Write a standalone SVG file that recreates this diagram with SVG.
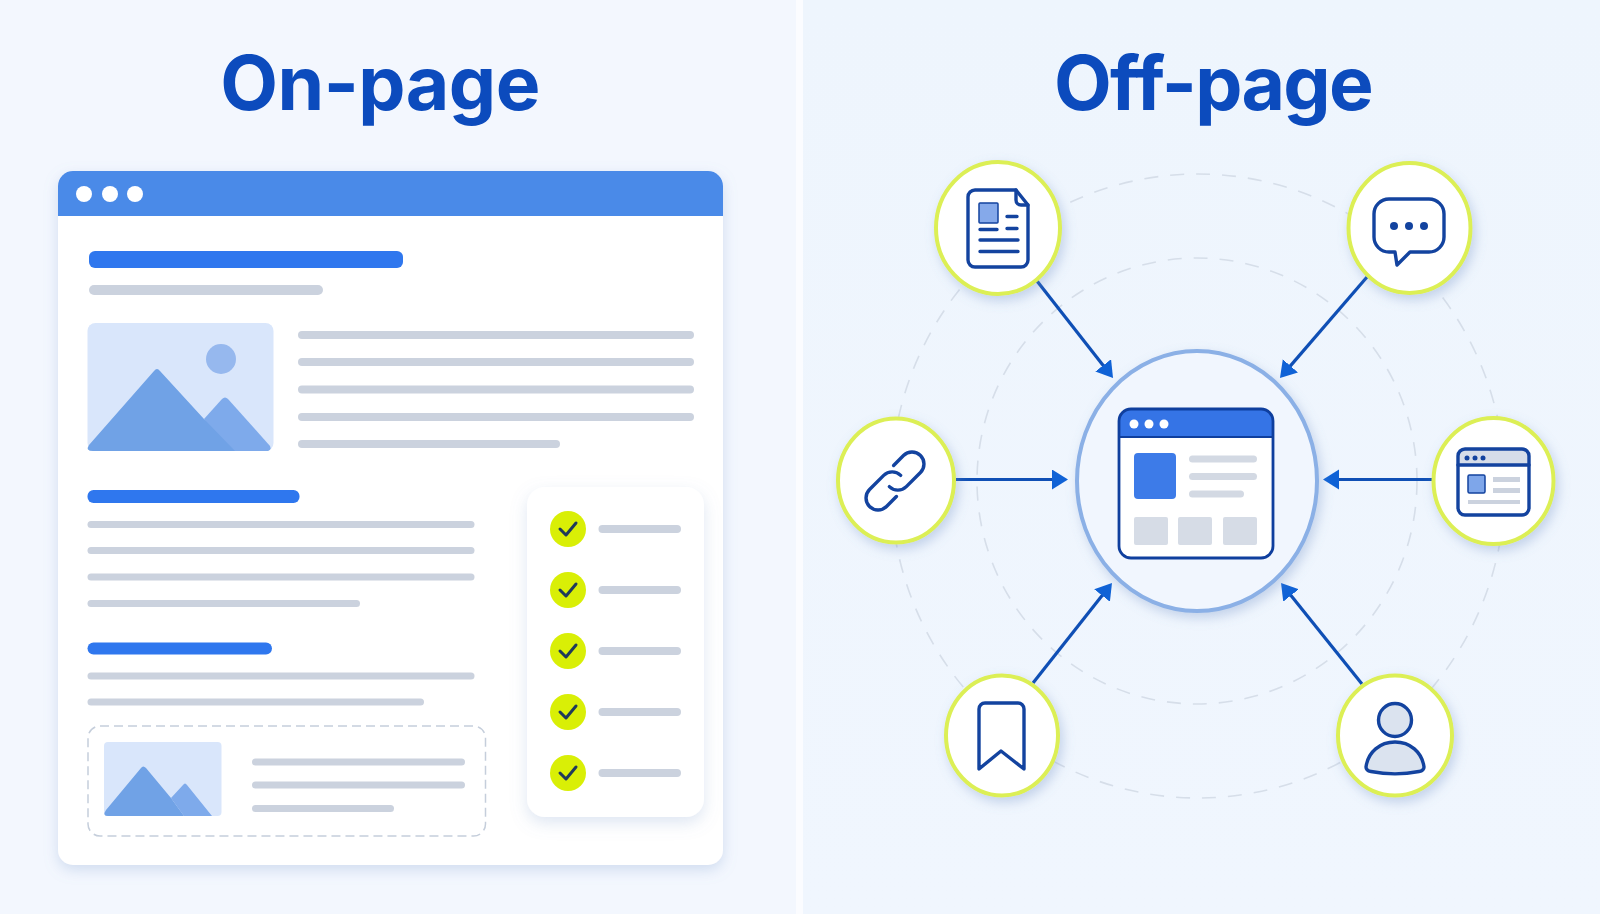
<svg xmlns="http://www.w3.org/2000/svg" width="1600" height="914" viewBox="0 0 1600 914">
  <defs>
    <linearGradient id="bgRight" x1="0" y1="0" x2="0" y2="1">
      <stop offset="0" stop-color="#eef5fd"/>
      <stop offset="1" stop-color="#f0f6fe"/>
    </linearGradient>
    <filter id="windowShadow" x="-10%" y="-10%" width="120%" height="120%">
      <feDropShadow dx="0" dy="5" stdDeviation="7" flood-color="#7d9ccc" flood-opacity="0.3"/>
    </filter>
    <filter id="cardShadow" x="-20%" y="-10%" width="140%" height="120%">
      <feDropShadow dx="0" dy="6" stdDeviation="8" flood-color="#7d9ccc" flood-opacity="0.25"/>
    </filter>
    <filter id="nodeShadow" x="-30%" y="-30%" width="160%" height="160%">
      <feDropShadow dx="3" dy="5" stdDeviation="6" flood-color="#6f8fc4" flood-opacity="0.35"/>
    </filter>
    <marker id="head" markerUnits="userSpaceOnUse" markerWidth="20" markerHeight="22" refX="2" refY="10" orient="auto">
      <path d="M0 0 L16 10 L0 20 Z" fill="#0f62d6"/>
    </marker>
    <style>
      text { font-family: Inter, "Liberation Sans", sans-serif; font-weight: 700; font-size: 75px; fill: #0c4bbd; text-anchor: middle; }
      .bar { fill: #cbd2de; }
      .heading { fill: #2f77ee; }
      .sky { fill: #d9e6fb; }
      .peak { fill: #70a2e6; }
      .peak2 { fill: #7eaaeb; }
      .tick { fill: #d9ef06; }
      .mark { fill: none; stroke: #1f3a5a; stroke-width: 3; stroke-linecap: round; stroke-linejoin: round; }
      .dot { fill: #ffffff; }
      .orbit { fill: none; stroke: #d6dee9; stroke-width: 1.600; stroke-dasharray: 14 12; }
      .link { stroke: #0f4fb5; stroke-width: 3.200; marker-end: url(#head); }
      .ring { fill: #ffffff; stroke: #dcef55; stroke-width: 4; filter: url(#nodeShadow); }
      .ink { fill: none; stroke: #13439f; stroke-width: 3.400; stroke-linecap: round; stroke-linejoin: round; }
      .inkfill { fill: #13439f; }
    </style>
  </defs>

  <!-- panels -->
  <rect width="1600" height="914" fill="#f3f7fe"/>
  <rect x="803" width="797" height="914" fill="url(#bgRight)"/>
  <rect x="796" width="7" height="914" fill="#fbfcff"/>

  <text x="380" y="110" letter-spacing="-0.500">On-page</text>
  <text x="1213" y="110" letter-spacing="-1.700">Off-page</text>

  <!-- page layout -->
  <g id="page-window">
    <rect x="58" y="171" width="665" height="694" rx="15" fill="#ffffff" filter="url(#windowShadow)"/>
    <path d="M58 216 V186 A15 15 0 0 1 73 171 H708 A15 15 0 0 1 723 186 V216 Z" fill="#4a8ae8"/>
    <circle class="dot" cx="84" cy="194" r="8"/>
    <circle class="dot" cx="110" cy="194" r="8"/>
    <circle class="dot" cx="135" cy="194" r="8"/>

    <rect class="heading" x="89" y="251" width="314" height="17" rx="6"/>
    <rect class="bar" x="89" y="285" width="234" height="10" rx="5"/>

    <rect class="sky" x="87.500" y="323" width="186" height="128" rx="8"/>
    <circle cx="221" cy="359" r="15" fill="#96b8ee"/>
    <path class="peak2" d="M204 419 L222 399 Q225 396 228 399 L270 446 Q272 451 266 451 L225 451 Z"/>
    <path class="peak" d="M154 371 Q157 367 160 371 L204 419 L235 451 H93 Q85 451 89 445 Z"/>

    <rect class="bar" x="298" y="331" width="396" height="8" rx="4"/>
    <rect class="bar" x="298" y="358" width="396" height="8" rx="4"/>
    <rect class="bar" x="298" y="385.500" width="396" height="8" rx="4"/>
    <rect class="bar" x="298" y="413" width="396" height="8" rx="4"/>
    <rect class="bar" x="298" y="440" width="262" height="8" rx="4"/>

    <rect class="heading" x="87.500" y="490" width="212" height="13" rx="6"/>
    <rect class="bar" x="87.500" y="521" width="387" height="7" rx="3.500"/>
    <rect class="bar" x="87.500" y="547" width="387" height="7" rx="3.500"/>
    <rect class="bar" x="87.500" y="573.500" width="387" height="7" rx="3.500"/>
    <rect class="bar" x="87.500" y="600" width="272.500" height="7" rx="3.500"/>

    <rect class="heading" x="87.500" y="642.500" width="184.500" height="12" rx="6"/>
    <rect class="bar" x="87.500" y="672.500" width="387" height="7" rx="3.500"/>
    <rect class="bar" x="87.500" y="698.500" width="336.500" height="7" rx="3.500"/>

    <rect x="88" y="726" width="397.500" height="110" rx="12" fill="none" stroke="#c5cedb" stroke-width="1.500" stroke-dasharray="9 5"/>
    <rect class="sky" x="104" y="742" width="117.500" height="74" rx="4"/>
    <path class="peak2" d="M171 798 L183 785 Q185 782 187 785 L212 816 H184 Z"/>
    <path class="peak" d="M141 768 Q143 765 146 768 L171 798 L184 816 H108 Q102 816 106 810 Z"/>
    <rect class="bar" x="252" y="758.500" width="213" height="7" rx="3.500"/>
    <rect class="bar" x="252" y="781.500" width="213" height="7" rx="3.500"/>
    <rect class="bar" x="252" y="805" width="142" height="7" rx="3.500"/>
  </g>

  <g id="checklist">
    <rect x="527" y="487" width="177" height="330" rx="18" fill="#ffffff" filter="url(#cardShadow)"/>
    <circle class="tick" cx="568" cy="529" r="18"/>
    <path class="mark" d="M560 529 L566 535 L576 523"/>
    <rect class="bar" x="598.500" y="525" width="82.500" height="8" rx="4"/>
    <circle class="tick" cx="568" cy="590" r="18"/>
    <path class="mark" d="M560 590 L566 596 L576 584"/>
    <rect class="bar" x="598.500" y="586" width="82.500" height="8" rx="4"/>
    <circle class="tick" cx="568" cy="651" r="18"/>
    <path class="mark" d="M560 651 L566 657 L576 645"/>
    <rect class="bar" x="598.500" y="647" width="82.500" height="8" rx="4"/>
    <circle class="tick" cx="568" cy="712" r="18"/>
    <path class="mark" d="M560 712 L566 718 L576 706"/>
    <rect class="bar" x="598.500" y="708" width="82.500" height="8" rx="4"/>
    <circle class="tick" cx="568" cy="773" r="18"/>
    <path class="mark" d="M560 773 L566 779 L576 767"/>
    <rect class="bar" x="598.500" y="769" width="82.500" height="8" rx="4"/>
  </g>

  <!-- orbit rings behind the hub -->
  <ellipse class="orbit" cx="1197" cy="481" rx="220" ry="223"/>
  <ellipse class="orbit" cx="1198" cy="486" rx="307" ry="312"/>

  <g id="connectors">
    <line class="link" x1="1037" y1="281" x2="1104.400" y2="367"/>
    <line class="link" x1="1367" y1="277" x2="1289.100" y2="367.400"/>
    <line class="link" x1="956" y1="479.500" x2="1054" y2="479.500"/>
    <line class="link" x1="1432" y1="479.500" x2="1337" y2="479.500"/>
    <line class="link" x1="1033" y1="683" x2="1103.300" y2="594"/>
    <line class="link" x1="1362" y1="684" x2="1289.800" y2="593.900"/>
  </g>

  <g id="hub">
    <ellipse cx="1197" cy="481" rx="120" ry="130" fill="#f1f6fe" stroke="#8bb0e6" stroke-width="4" filter="url(#nodeShadow)"/>
    <rect x="1119" y="409" width="154" height="149" rx="12" fill="#ffffff"/>
    <path d="M1119 437 V421 A12 12 0 0 1 1131 409 H1261 A12 12 0 0 1 1273 421 V437 Z" fill="#3574e6"/>
    <rect x="1119" y="409" width="154" height="149" rx="12" fill="none" stroke="#0f3f9e" stroke-width="2.800"/>
    <line x1="1119" y1="437" x2="1273" y2="437" stroke="#0f3f9e" stroke-width="2"/>
    <circle class="dot" cx="1134" cy="424" r="4.500"/>
    <circle class="dot" cx="1149" cy="424" r="4.500"/>
    <circle class="dot" cx="1164" cy="424" r="4.500"/>
    <rect x="1134" y="453" width="42" height="46" rx="4" fill="#3d7be8"/>
    <rect class="bar" x="1189" y="455.500" width="68" height="7" rx="3.500" opacity="0.85"/>
    <rect class="bar" x="1189" y="473" width="68" height="7" rx="3.500" opacity="0.85"/>
    <rect class="bar" x="1189" y="490.500" width="55" height="7" rx="3.500" opacity="0.85"/>
    <rect x="1134" y="517" width="34" height="28" rx="2" fill="#d6dce6"/>
    <rect x="1178" y="517" width="34" height="28" rx="2" fill="#d6dce6"/>
    <rect x="1223" y="517" width="34" height="28" rx="2" fill="#d6dce6"/>
  </g>

  <g id="node-document">
    <ellipse class="ring" cx="998" cy="228" rx="62" ry="66"/>
    <path class="ink" d="M975 190 H1016 L1028 205 V260 A7 7 0 0 1 1021 267 H975 A7 7 0 0 1 968 260 V197 A7 7 0 0 1 975 190 Z"/>
    <path class="ink" d="M1016 190 V200 A5 5 0 0 0 1021 205 H1028" stroke-width="2"/>
    <rect x="979" y="203" width="19" height="20" fill="#85a9ea" stroke="#13439f" stroke-width="1.500" rx="1"/>
    <path class="ink" stroke-width="2.800" d="M1007 216.500 H1017 M1007 228.500 H1017 M980 229.500 H997 M980 240 H1018 M980 251.500 H1018"/>
  </g>

  <g id="node-comment">
    <ellipse class="ring" cx="1409.500" cy="228" rx="61" ry="65"/>
    <path class="ink" d="M1389 199 H1429 A15 15 0 0 1 1444 214 V237 A15 15 0 0 1 1429 252 H1410 L1397 265 L1395 252 H1389 A15 15 0 0 1 1374 237 V214 A15 15 0 0 1 1389 199 Z"/>
    <circle class="inkfill" cx="1394" cy="226" r="4"/>
    <circle class="inkfill" cx="1409" cy="226" r="4"/>
    <circle class="inkfill" cx="1424" cy="226" r="4"/>
  </g>

  <g id="node-link">
    <ellipse class="ring" cx="896" cy="480.500" rx="58" ry="62"/>
    <g transform="translate(895 481) rotate(-45)">
      <path class="ink" stroke-width="4.400" d="M10 -12 H24 A12 12 0 0 1 24 12 H4 A12 12 0 0 1 -8 0"/>
      <path class="ink" stroke-width="4.400" d="M-10 12 H-24 A12 12 0 0 1 -24 -12 H-4 A12 12 0 0 1 8 0"/>
    </g>
  </g>

  <g id="node-website">
    <ellipse class="ring" cx="1493.500" cy="481" rx="60" ry="63"/>
    <path d="M1458 465 V456 A7 7 0 0 1 1465 449 H1522 A7 7 0 0 1 1529 456 V465 Z" fill="#d6dde9"/>
    <rect class="ink" x="1458" y="449" width="71" height="66" rx="7"/>
    <line class="ink" x1="1458" y1="465" x2="1529" y2="465"/>
    <circle class="inkfill" cx="1467" cy="458" r="2.500"/>
    <circle class="inkfill" cx="1475" cy="458" r="2.500"/>
    <circle class="inkfill" cx="1483" cy="458" r="2.500"/>
    <rect x="1468" y="475" width="17" height="18" rx="1.500" fill="#7ea6ea" stroke="#13439f" stroke-width="1.500"/>
    <rect class="bar" x="1493" y="477" width="27" height="5"/>
    <rect class="bar" x="1493" y="488" width="27" height="5"/>
    <rect class="bar" x="1468" y="500" width="52" height="4"/>
  </g>

  <g id="node-bookmark">
    <ellipse class="ring" cx="1002" cy="735.500" rx="56" ry="60"/>
    <path class="ink" d="M985 703 H1018 A6 6 0 0 1 1024 709 V769 L1001 751 L979 769 V709 A6 6 0 0 1 985 703 Z"/>
  </g>

  <g id="node-person">
    <ellipse class="ring" cx="1395" cy="735.500" rx="57" ry="60"/>
    <circle cx="1395" cy="720" r="16.500" fill="#dbe3ef" stroke="#13439f" stroke-width="3.400"/>
    <path d="M1366 767 C1368 752 1380 742 1395 742 C1410 742 1422 752 1424 767 C1424 770 1422 771 1419 771.500 C1404 774.500 1386 774.500 1371 771.500 C1368 771 1366 770 1366 767 Z" fill="#dbe3ef" stroke="#13439f" stroke-width="3.400" stroke-linejoin="round"/>
  </g>
</svg>
